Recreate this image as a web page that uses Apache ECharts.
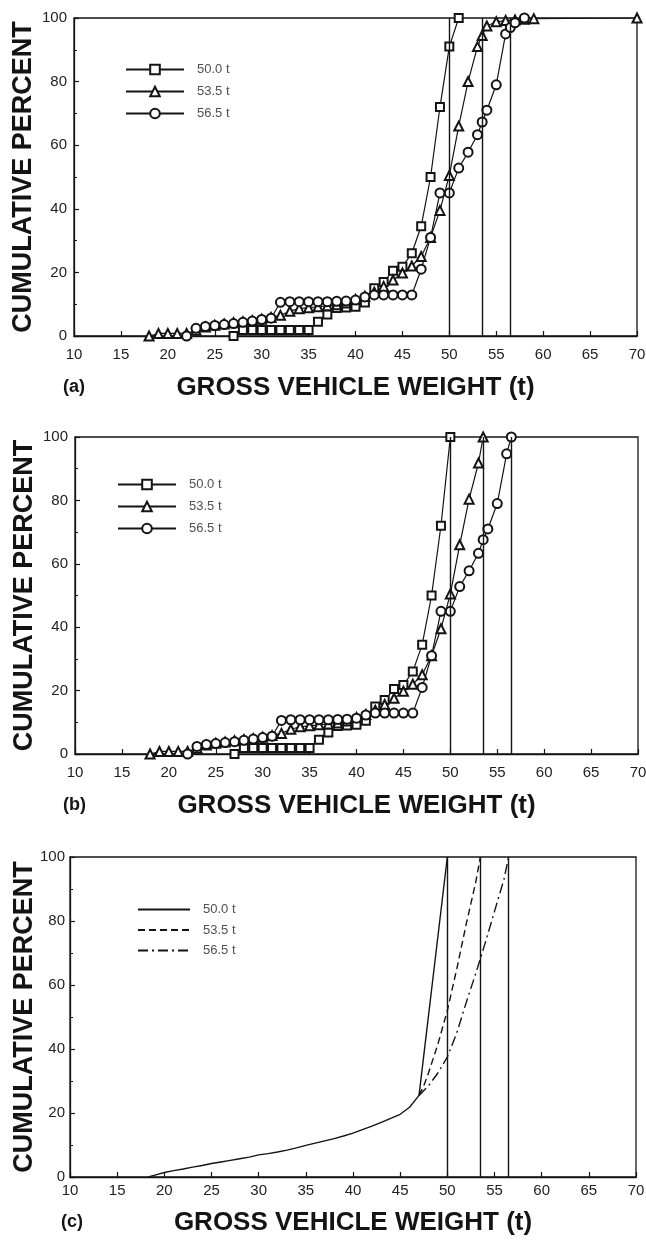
<!DOCTYPE html>
<html>
<head>
<meta charset="utf-8">
<script src="https://cdn.jsdelivr.net/npm/echarts@6/dist/echarts.min.js"></script>
<style>
  html, body { margin: 0; padding: 0; background: #fff; }
  #chart { width: 646px; height: 1241px; }
</style>
</head>
<body>
<div id="chart"></div>
<script>
// Legend labels (legal gross-weight limits) and the matching limit lines
const limitLabels = ['50.0 t', '53.5 t', '56.5 t'];
const limitValues = [50.0, 53.5, 56.5];
const panelTags = ['(a)', '(b)', '(c)'];
const xTitle = 'GROSS VEHICLE WEIGHT (t)';
const yTitle = 'CUMULATIVE PERCENT';

// ---- Panel (a): observed cumulative distributions ----
const a50X = [27, 28, 29, 30, 31, 32, 33, 34, 35, 36, 37, 38, 39, 40, 41, 42, 43, 44, 45, 46, 47, 48, 49, 50, 51];
const a50Y = [0, 1.9, 1.9, 1.9, 1.9, 1.9, 1.9, 1.9, 1.9, 4.5, 6.8, 8.8, 9.0, 9.2, 10.5, 15.0, 17.0, 20.5, 21.8, 26.0, 34.5, 50.0, 72.0, 91.0, 100];

const a53X = [18, 19, 20, 21, 22, 23, 24, 25, 26, 27, 28, 29, 30, 31, 32, 33, 34, 35, 36, 37, 38, 39, 40, 41, 42, 43, 44, 45, 46, 47, 48, 49, 50, 51, 52, 53, 53.5, 54, 55, 56, 57, 58, 59, 70];
const a53Y = [0, 0.8, 0.8, 0.8, 0.8, 1.8, 2.8, 3.4, 3.8, 4.2, 4.5, 4.8, 5.3, 5.8, 6.5, 7.8, 8.6, 8.9, 9.2, 9.5, 9.8, 10.4, 11.5, 12.5, 13.8, 15.6, 17.6, 19.8, 22.0, 25.0, 31.0, 39.5, 50.5, 66.0, 80.0, 91.0, 94.5, 97.5, 98.8, 99.2, 99.4, 99.6, 99.8, 100];

const a56X = [22, 23, 24, 25, 26, 27, 28, 29, 30, 31, 32, 33, 34, 35, 36, 37, 38, 39, 40, 41, 42, 43, 44, 45, 46, 47, 48, 49, 50, 51, 52, 53, 53.5, 54, 55, 56, 56.5, 57, 58];
const a56Y = [0, 2.4, 3.0, 3.3, 3.6, 3.9, 4.3, 4.7, 5.2, 5.6, 10.6, 10.8, 10.8, 10.8, 10.8, 10.8, 10.9, 11.0, 11.3, 12.3, 12.9, 12.9, 12.9, 12.9, 12.9, 21.0, 31.0, 45.0, 45.0, 52.8, 57.8, 63.3, 67.3, 71.0, 79.0, 95.0, 97.0, 98.5, 100];

// ---- Panel (b): distributions truncated at each limit ----
const b50X = [27, 28, 29, 30, 31, 32, 33, 34, 35, 36, 37, 38, 39, 40, 41, 42, 43, 44, 45, 46, 47, 48, 49, 50];
const b50Y = [0, 1.9, 1.9, 1.9, 1.9, 1.9, 1.9, 1.9, 1.9, 4.5, 6.8, 8.8, 9.0, 9.2, 10.5, 15.0, 17.0, 20.5, 21.8, 26.0, 34.5, 50.0, 72.0, 100];

const b53X = [18, 19, 20, 21, 22, 23, 24, 25, 26, 27, 28, 29, 30, 31, 32, 33, 34, 35, 36, 37, 38, 39, 40, 41, 42, 43, 44, 45, 46, 47, 48, 49, 50, 51, 52, 53, 53.5];
const b53Y = [0, 0.8, 0.8, 0.8, 0.8, 1.8, 2.8, 3.4, 3.8, 4.2, 4.5, 4.8, 5.3, 5.8, 6.5, 7.8, 8.6, 8.9, 9.2, 9.5, 9.8, 10.4, 11.5, 12.5, 13.8, 15.6, 17.6, 19.8, 22.0, 25.0, 31.0, 39.5, 50.5, 66.0, 80.4, 91.8, 100];

const b56X = [22, 23, 24, 25, 26, 27, 28, 29, 30, 31, 32, 33, 34, 35, 36, 37, 38, 39, 40, 41, 42, 43, 44, 45, 46, 47, 48, 49, 50, 51, 52, 53, 53.5, 54, 55, 56, 56.5];
const b56Y = [0, 2.4, 3.0, 3.3, 3.6, 3.9, 4.3, 4.7, 5.2, 5.6, 10.6, 10.8, 10.8, 10.8, 10.8, 10.8, 10.9, 11.0, 11.3, 12.3, 12.9, 12.9, 12.9, 12.9, 12.9, 21.0, 31.0, 45.0, 45.0, 52.8, 57.8, 63.3, 67.6, 71.0, 79.0, 94.7, 100];

// ---- Panel (c): fitted curves ----
const c50X = [18.3, 19, 20, 21, 22, 23, 24, 25, 26, 27, 28, 29, 30, 31, 32, 33, 34, 35, 36, 37, 38, 39, 40, 41, 42, 43, 44, 45, 46, 47, 50];
const c50Y = [0, 0.6, 1.4, 2.0, 2.5, 3.1, 3.6, 4.2, 4.7, 5.2, 5.7, 6.2, 6.9, 7.3, 7.8, 8.4, 9.1, 9.9, 10.6, 11.3, 12.0, 12.8, 13.7, 14.8, 15.9, 17.1, 18.3, 19.6, 21.8, 25.5, 100];

const c53X = [47, 47.5, 48, 49, 50, 51, 52, 53, 53.5];
const c53Y = [25.5, 28.5, 32.5, 41.5, 52.0, 65.0, 79.0, 92.0, 100];

const c56X = [47, 48, 49, 50, 51, 52, 53, 54, 55, 56, 56.5];
const c56Y = [25.5, 28.5, 32.5, 37.5, 45.0, 54.5, 63.5, 73.0, 83.0, 93.0, 100];

// ---------------------------------------------------------------
const FONT = '"Liberation Sans", Arial, Helvetica, sans-serif';
const INK = '#141414';

const pairs = (xs, ys) => xs.map((x, i) => [x, ys[i]]);

// Plot boxes of the three stacked panels
const grids = [
  { left: 74, top: 18, width: 563, height: 318 },
  { left: 75, top: 437, width: 563, height: 317 },
  { left: 70, top: 857, width: 566, height: 320 }
];
const xLabelMargin = [11, 11, 6];
const xNameGap = [39, 39, 33];
const yNameGap = [37, 37, 32];

const markerStyles = [
  { symbol: 'emptyRect', symbolSize: 8, borderWidth: 1.3 },
  { symbol: 'emptyTriangle', symbolSize: 9, borderWidth: 1.7 },
  { symbol: 'emptyCircle', symbolSize: 9, borderWidth: 1.3 }
];
const dashStyles = ['solid', [7, 4], [10, 4, 2, 4]];

function markerSeries(panel, k, xs, ys) {
  const m = markerStyles[k];
  return {
    type: 'line',
    name: panel + ' ' + limitLabels[k],
    xAxisIndex: 'abc'.indexOf(panel),
    yAxisIndex: 'abc'.indexOf(panel),
    data: pairs(xs, ys),
    symbol: m.symbol,
    symbolSize: m.symbolSize,
    color: INK,
    itemStyle: { color: INK, borderColor: INK, borderWidth: m.borderWidth },
    lineStyle: { color: INK, width: 1.2 },
    animation: false,
    z: 3
  };
}

function curveSeries(k, xs, ys) {
  return {
    type: 'line',
    name: 'c ' + limitLabels[k],
    xAxisIndex: 2,
    yAxisIndex: 2,
    data: pairs(xs, ys),
    symbol: 'none',
    color: INK,
    lineStyle: { color: INK, width: 1.4, type: dashStyles[k] },
    animation: false,
    z: 3
  };
}

function limitSeries(g) {
  return {
    type: 'line',
    name: 'limits ' + g,
    xAxisIndex: g,
    yAxisIndex: g,
    data: [],
    silent: true,
    animation: false,
    markLine: {
      symbol: 'none',
      silent: true,
      animation: false,
      label: { show: false },
      lineStyle: { color: INK, width: 1.4, type: 'solid' },
      emphasis: { disabled: true },
      data: limitValues.map(v => ({ xAxis: v }))
    }
  };
}

const xAxes = grids.map((_, g) => ({
  type: 'value', gridIndex: g, min: 10, max: 70, interval: 5,
  name: xTitle, nameLocation: 'middle', nameGap: xNameGap[g],
  nameTextStyle: { fontFamily: FONT, fontSize: 26, fontWeight: 'bold', color: INK },
  axisLine: { show: true, onZero: false, lineStyle: { color: INK, width: 1.3 } },
  axisTick: { show: true, inside: true, length: 5, lineStyle: { color: INK, width: 1.2 } },
  axisLabel: { fontFamily: FONT, fontSize: 15, color: '#222', margin: xLabelMargin[g] },
  splitLine: { show: false }
}));

const yAxes = grids.map((_, g) => ({
  type: 'value', gridIndex: g, min: 0, max: 100, interval: 20,
  name: yTitle, nameLocation: 'middle', nameGap: yNameGap[g],
  nameMoveOverlap: false,
  nameTextStyle: { fontFamily: FONT, fontSize: 27, fontWeight: 'bold', color: INK },
  axisLine: { show: true, onZero: false, lineStyle: { color: INK, width: 1.3 } },
  axisTick: { show: true, inside: true, length: 5, lineStyle: { color: INK, width: 1.2 } },
  minorTick: { show: true, splitNumber: 2, length: 3, lineStyle: { color: INK, width: 1 } },
  axisLabel: { fontFamily: FONT, fontSize: 15, color: '#222', margin: g === 2 ? 5 : 7 },
  splitLine: { show: false },
  minorSplitLine: { show: false }
}));

const legendPlaces = [
  { left: 120, top: 58, itemWidth: 58, itemGap: 9 },
  { left: 112, top: 473, itemWidth: 58, itemGap: 9 },
  { left: 132, top: 898, itemWidth: 52, itemGap: 7.5 }
];
const legends = legendPlaces.map((p, g) => {
  const lg = {
    orient: 'vertical',
    left: p.left, top: p.top,
    itemWidth: p.itemWidth, itemHeight: 12, itemGap: p.itemGap,
    selectedMode: false,
    data: limitLabels.map(l => 'abc'[g] + ' ' + l),
    formatter: name => name.slice(2),
    textStyle: { fontFamily: FONT, fontSize: 13, color: '#505050', lineHeight: 12, padding: [0, 0, 0, 8] }
  };
  // the fitted curves carry no markers, so their keys show the line only
  if (g === 2) {
    lg.itemStyle = { opacity: 0, color: 'transparent', borderColor: 'transparent', borderWidth: 0 };
  }
  return lg;
});

const tagPlaces = [
  { left: 63, top: 378 },
  { left: 63, top: 796 },
  { left: 61, top: 1213 }
];

const series = [
  markerSeries('a', 0, a50X, a50Y),
  markerSeries('a', 1, a53X, a53Y),
  markerSeries('a', 2, a56X, a56Y),
  markerSeries('b', 0, b50X, b50Y),
  markerSeries('b', 1, b53X, b53Y),
  markerSeries('b', 2, b56X, b56Y),
  curveSeries(0, c50X, c50Y),
  curveSeries(1, c53X, c53Y),
  curveSeries(2, c56X, c56Y),
  limitSeries(0), limitSeries(1), limitSeries(2)
];

const chart = echarts.init(document.getElementById('chart'), null, { renderer: 'canvas' });
chart.setOption({
  backgroundColor: '#fff',
  animation: false,
  grid: grids.map(g => Object.assign({
    show: true, borderColor: INK, borderWidth: 1.3, backgroundColor: 'transparent',
    containLabel: false, outerBoundsMode: 'none'
  }, g)),
  xAxis: xAxes,
  yAxis: yAxes,
  legend: legends,
  graphic: panelTags.map((t, i) => ({
    type: 'text', left: tagPlaces[i].left, top: tagPlaces[i].top,
    style: { text: t, font: 'bold 18px ' + FONT, fill: INK }
  })),
  series: series
});
</script>
</body>
</html>
